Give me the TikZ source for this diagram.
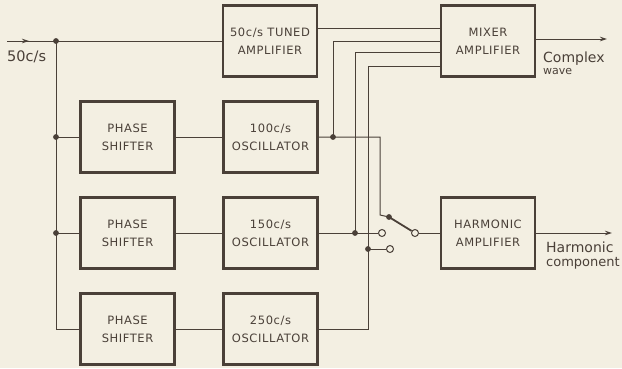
\documentclass[tikz,border=0pt]{standalone}
\usepackage{fontspec}
\setmainfont{DejaVu Sans}
\newfontfamily\boxfont[LetterSpace=5]{DejaVu Sans}
\usetikzlibrary{arrows.meta}
\definecolor{ink}{HTML}{4A4038}
\definecolor{paper}{HTML}{F3EFE2}
\begin{document}
\begin{tikzpicture}[x=1pt,y=-1pt,
  blk/.style={draw=ink, line width=2.2pt, minimum width=94pt, minimum height=71pt,
    align=center, font=\boxfont\fontsize{11.5}{18}\selectfont, text=ink, inner sep=0pt},
  wire/.style={draw=ink, line width=1pt},
  jdot/.style={circle, fill=ink, inner sep=0pt, minimum size=5.8pt},
  odot/.style={circle, draw=ink, fill=paper, line width=1pt, inner sep=0pt, minimum size=7pt},
  lbl/.style={text=ink, anchor=base west, inner sep=0pt},
  tip/.style={-{Stealth[length=7pt,width=4.5pt]}}
]
\useasboundingbox (0,0) rectangle (622,368);
\fill[paper] (0,0) rectangle (622,368);

% blocks
\node[blk] (tuned) at (270,41) {50c/s TUNED\\AMPLIFIER};
\node[blk] (mixer) at (488,41) {MIXER\\AMPLIFIER};
\node[blk] (ps1) at (127.5,137) {PHASE\\SHIFTER};
\node[blk] (osc1) at (270.5,137) {100c/s\\OSCILLATOR};
\node[blk] (ps2) at (127.5,233) {PHASE\\SHIFTER};
\node[blk] (osc2) at (270.5,233) {150c/s\\OSCILLATOR};
\node[blk] (ps3) at (127.5,329) {PHASE\\SHIFTER};
\node[blk] (osc3) at (270.5,329) {250c/s\\OSCILLATOR};
\node[blk] (harm) at (488,233) {HARMONIC\\AMPLIFIER};

% coordinates
\coordinate (inS) at (7,41);
\coordinate (inA) at (29,41);
\coordinate (j0) at (56,41);
\coordinate (jb) at (56,329);
\coordinate (j1) at (56,137);
\coordinate (j2) at (56,233);
\coordinate (m1) at (0,28);
\coordinate (m3) at (0,52);
\coordinate (m4) at (0,66);
\coordinate (d1) at (333,137);
\coordinate (k1) at (380,137);
\coordinate (k2) at (380,215);
\coordinate (piv) at (389,217);
\coordinate (d2) at (355,233);
\coordinate (k3) at (368,329);
\coordinate (d3) at (368,249);
\coordinate (o1) at (607,39);
\coordinate (o2) at (612,233);

% input
\draw[wire] (inS) -- (tuned.west);
\draw[wire, tip] (inS) -- (inA);
\draw[wire] (j0) -- (jb) -- (ps3.west);
\draw[wire] (j1) -- (ps1.west);
\draw[wire] (j2) -- (ps2.west);
\draw[wire] (ps1.east) -- (osc1.west);
\draw[wire] (ps2.east) -- (osc2.west);
\draw[wire] (ps3.east) -- (osc3.west);

% to mixer
\draw[wire] (tuned.east |- m1) -- (mixer.west |- m1);
\draw[wire] (osc1.east) -- (k1) -- (k2) -- (piv);
\draw[wire] (d1) -- (d1 |- mixer.west) -- (mixer.west);
\draw[wire] (d2) -- (d2 |- m3) -- (mixer.west |- m3);
\draw[wire] (osc3.east) -- (k3) -- (k3 |- m4) -- (mixer.west |- m4);

% switch contacts
\node[odot] (c1) at (382,233) {};
\node[odot] (c2) at (390,249) {};
\node[odot] (c3) at (415,233) {};
\draw[wire] (osc2.east) -- (c1);
\draw[wire] (d3) -- (c2);
\draw[draw=ink, line width=1.8pt] (piv) -- (c3);
\draw[wire] (c3) -- (harm.west);

% junction dots
\foreach \p in {j0,j1,j2,d1,d2,d3,piv} \node[jdot] at (\p) {};

% outputs
\draw[wire, tip] (mixer.east |- o1) -- (o1);
\draw[wire, tip] (harm.east) -- (o2);

% labels
\node[lbl, font=\fontsize{14.5}{14}\selectfont] (lin) at (7,61) {50c/s};
\node[lbl, font=\fontsize{14}{14}\selectfont] (lcw) at (543,62) {Complex};
\node[lbl, font=\fontsize{11}{11}\selectfont] (lw) at (543,74) {wave};
\node[lbl, font=\fontsize{14}{14}\selectfont] (lh) at (546,252) {Harmonic};
\node[lbl, font=\fontsize{13}{13}\selectfont] (lc) at (546,266) {component};
\end{tikzpicture}
\end{document}
